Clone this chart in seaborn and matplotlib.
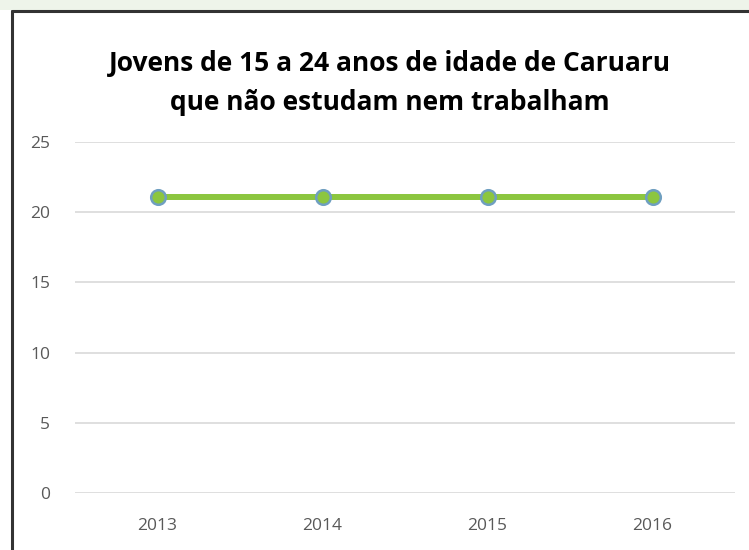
import matplotlib
matplotlib.use("Agg")
import matplotlib.pyplot as plt
import seaborn as sns
import pandas as pd
from matplotlib.patches import Rectangle

years = ["2013", "2014", "2015", "2016"]
values = [21.1, 21.1, 21.1, 21.1]
yticks = [0, 5, 10, 15, 20, 25]
title = "Jovens de 15 a 24 anos de idade de Caruaru\nque não estudam nem trabalham"

sns.set_theme(style="white")
plt.rcParams['font.family'] = ['Open Sans', 'DejaVu Sans']

df = pd.DataFrame({"ano": years, "valor": values})

W, H = 749, 550
fig = plt.figure(figsize=(7.49, 5.5), dpi=100, facecolor="white")
# pale green background strip outside frame (top)
fig.patches.append(Rectangle((0, 1 - 10 / H), 1, 10 / H, transform=fig.transFigure,
                             facecolor="#eef4ea", edgecolor="none", zorder=0))
# dark frame (left and top edges visible)
fig.add_artist(plt.Line2D([12 / W, 12 / W], [0, 1 - 11 / H], transform=fig.transFigure,
                          color="#333333", lw=2.2))
fig.add_artist(plt.Line2D([12 / W, 1], [1 - 11 / H, 1 - 11 / H], transform=fig.transFigure,
                          color="#333333", lw=2.2))

ax = fig.add_axes([75 / W, 1 - 493 / H, (735 - 75) / W, (493 - 142) / H])
sns.lineplot(data=df, x="ano", y="valor", ax=ax, color="#8CC63F", linewidth=4.3,
             marker="o", markersize=10.5, markerfacecolor="#8CC63F",
             markeredgecolor="#6F9FC0", markeredgewidth=1.8, sort=False)

ax.set_xlim(-0.5, 3.5)
ax.set_ylim(0, 25)
ax.set_yticks(yticks)
ax.set_yticklabels([str(t) for t in yticks])
ax.grid(axis="y", color="#d9d9d9", linewidth=1.2)
ax.grid(axis="x", visible=False)
for s in ax.spines.values():
    s.set_visible(False)
ax.tick_params(axis="both", length=0, labelsize=12.5, labelcolor="#595959")
ax.tick_params(axis="y", pad=18)
ax.tick_params(axis="x", pad=18)
ax.set_xlabel("")
ax.set_ylabel("")
ax.set_axisbelow(True)

fig.text(390 / W, 1 - 83 / H, title, ha="center", va="center", fontsize=19,
         fontweight="bold", color="#000000", linespacing=1.6)

fig.savefig("out.png", dpi=100)
